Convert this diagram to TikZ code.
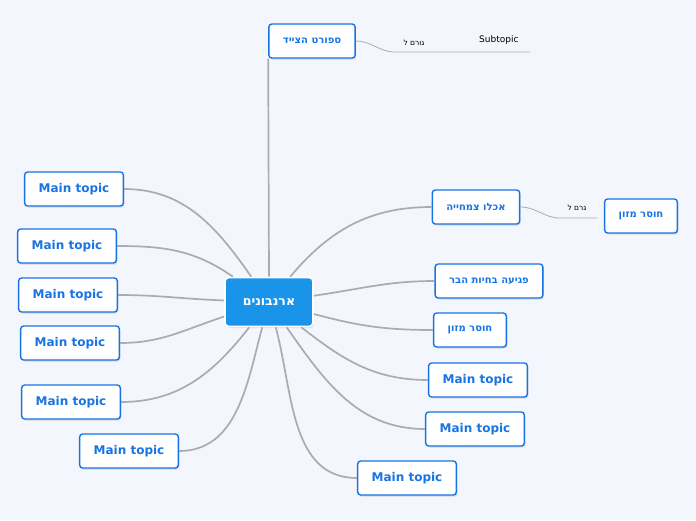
\documentclass[tikz,border=0pt]{standalone}
\usepackage{fontspec}
\setmainfont{DejaVu Sans}
\newfontfamily\hebfont[Script=Hebrew]{DejaVu Sans}
\TeXXeTstate=1
\usetikzlibrary{shadows}
\definecolor{bgcol}{RGB}{243,246,253}
\definecolor{topicblue}{RGB}{24,116,228}
\definecolor{rootblue}{RGB}{25,148,232}
\definecolor{conncol}{RGB}{170,172,178}
\newcommand{\heb}[1]{{\hebfont\beginR #1\endR}}
\tikzset{
  topic/.style={draw=topicblue, line width=1.4pt, fill=white, rounded corners=3pt,
    text=topicblue, font=\bfseries\fontsize{12}{14}\selectfont, inner xsep=14pt,
    minimum height=34pt,
    drop shadow={shadow xshift=1pt, shadow yshift=-1.5pt, opacity=0.25}},
  htopic/.style={topic, font=\bfseries\fontsize{10}{12}\selectfont},
  root/.style={draw=white, line width=1.6pt, fill=rootblue, rounded corners=4pt,
    text=white, font=\bfseries\fontsize{12.5}{14}\selectfont,
    minimum width=88pt, minimum height=49pt,
    drop shadow={shadow xshift=1pt, shadow yshift=-1.5pt, opacity=0.25}},
  conn/.style={draw=conncol, line width=1.7pt},
  subconn/.style={draw=conncol, line width=0.8pt},
  rel/.style={font=\fontsize{7.5}{9}\selectfont}
}
\begin{document}
\begin{tikzpicture}[x=1pt,y=-1pt]
\fill[bgcol] (0,0) rectangle (696,520);
\useasboundingbox (0,0) rectangle (696,520);

\node[root] (c) at (269,302) {\heb{ארנבונים}};
\node[htopic] (t) at (312,41) {\heb{ספורט הצייד}};

\node[htopic] (r1) at (476,207) {\heb{אכלו צמחייה}};
\node[htopic] (r1a) at (641,216) {\heb{חוסר מזון}};
\node[htopic] (r2) at (489,281) {\heb{פגיעה בחיות הבר}};
\node[htopic] (r3) at (470,330) {\heb{חוסר מזון}};
\node[topic] (r4) at (478,380) {Main topic};
\node[topic] (r5) at (475,429) {Main topic};
\node[topic] (r6) at (407,478) {Main topic};

\node[topic] (l1) at (74,189) {Main topic};
\node[topic] (l2) at (67,246) {Main topic};
\node[topic] (l3) at (68,295) {Main topic};
\node[topic] (l4) at (70,343) {Main topic};
\node[topic] (l5) at (71,402) {Main topic};
\node[topic] (l6) at (129,451) {Main topic};

% connectors from the root
\draw[conn] (c.north) -- (t.south west);
\draw[conn] (c) to[out=50,in=180] (r1);
\draw[conn] (c) to[out=8,in=180] (r2);
\draw[conn] (c) to[out=-15,in=180] (r3);
\draw[conn] (c) to[out=-38,in=180] (r4);
\draw[conn] (c) to[out=-55,in=180] (r5);
\draw[conn] (c) to[out=-75,in=180] (r6);
\draw[conn] (c) to[out=125,in=0] (l1);
\draw[conn] (c) to[out=145,in=0] (l2);
\draw[conn] (c) to[out=178,in=0] (l3);
\draw[conn] (c) to[out=198,in=0] (l4);
\draw[conn] (c) to[out=232,in=0] (l5);
\draw[conn] (c) to[out=255,in=0] (l6);

% subtopics
\coordinate (s1) at (395,52);
\coordinate (s2) at (530,52);
\node[font=\fontsize{9}{11}\selectfont, anchor=south east] (sub) at (522,48) {Subtopic};
\draw[subconn] (t.east) to[out=0,in=180] (s1) -- (s2);
\node[rel] (g1) at (414,43) {\heb{גורם ל}};

\coordinate (s3) at (560,218);
\coordinate (s4) at (597,218);
\draw[subconn] (r1.east) to[out=0,in=180] (s3) -- (s4);
\node[rel] (g2) at (577,208) {\heb{גרם ל}};
\end{tikzpicture}
\end{document}
